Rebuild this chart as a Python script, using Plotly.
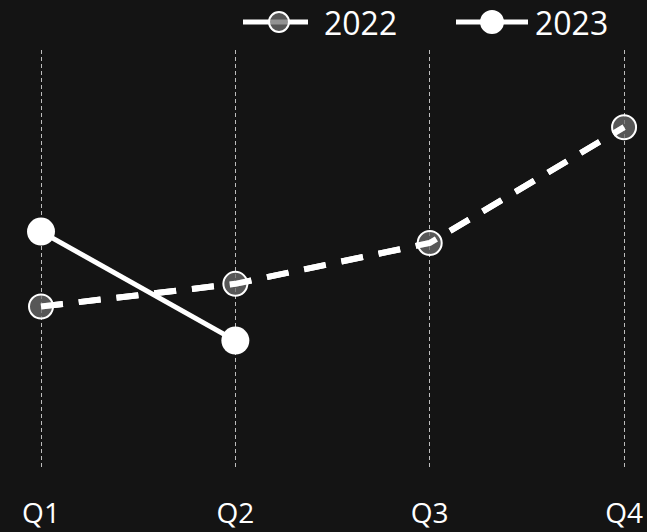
import plotly.graph_objects as go

quarters = ["Q1", "Q2", "Q3", "Q4"]
sales_2022 = [72, 82, 100, 151]
sales_2023 = [105, 57]

FONT = "Open Sans"
BG = "#141414"
W, H = 647, 532
M_TOP, M_BOT = 50, 62
PLOT_H = H - M_TOP - M_BOT

GREY_FILL = "rgba(110,110,110,0.75)"

fig = go.Figure()

# 2022: grey see-through markers with a dashed white line
fig.add_trace(go.Scatter(
    x=quarters, y=sales_2022, name="2022", mode="lines+markers",
    line=dict(color="white", width=6, dash="22px,16px"),
    marker=dict(size=24, color=GREY_FILL, line=dict(color="white", width=2)),
))
# dashed line repeated above the markers so it crosses into them
fig.add_trace(go.Scatter(
    x=quarters, y=sales_2022, mode="lines", hoverinfo="skip",
    line=dict(color="white", width=6, dash="22px,16px"),
))
# 2023: solid white line with filled white markers
fig.add_trace(go.Scatter(
    x=quarters[:len(sales_2023)], y=sales_2023, name="2023", mode="lines+markers",
    line=dict(color="white", width=5),
    marker=dict(size=28, color="white", line=dict(width=0)),
))


def px_x(p):
    return p / W


def px_y(p):
    # pixel row from the top of the page -> paper y
    return (H - M_BOT - p) / PLOT_H


# legend drawn at the top right: line sample, circle, label
legend_y = 22
legend_items = [
    dict(label="2022", x0=243, x1=308, cx=279, d=20, fill=GREY_FILL, text_x=322),
    dict(label="2023", x0=456, x1=528, cx=492, d=22, fill="white", text_x=533),
]
shapes = []
annotations = []
for item in legend_items:
    shapes.append(dict(type="line", xref="paper", yref="paper",
                       x0=px_x(item["x0"]), x1=px_x(item["x1"]),
                       y0=px_y(legend_y), y1=px_y(legend_y),
                       line=dict(color="white", width=5)))
    r = item["d"] / 2
    shapes.append(dict(type="circle", xref="paper", yref="paper",
                       xsizemode="pixel", ysizemode="pixel",
                       xanchor=px_x(item["cx"]), yanchor=px_y(legend_y),
                       x0=-r, x1=r, y0=-r, y1=r,
                       fillcolor=item["fill"], line=dict(color="white", width=2)))
    annotations.append(dict(text=item["label"], xref="paper", yref="paper",
                            x=px_x(item["text_x"]), y=px_y(legend_y),
                            xanchor="left", yanchor="middle", showarrow=False,
                            font=dict(family=FONT, size=32, color="white")))

fig.update_layout(
    width=W, height=H,
    paper_bgcolor=BG, plot_bgcolor=BG,
    margin=dict(l=0, r=0, t=M_TOP, b=M_BOT),
    font=dict(family=FONT, color="white", size=28),
    showlegend=False,
    shapes=shapes,
    annotations=annotations,
    xaxis=dict(
        type="category", range=[-0.211, 3.118],
        showgrid=True, gridcolor="#bdbdbd", gridwidth=1, griddash="4px,3px",
        showline=False, zeroline=False, ticks="", ticklabelstandoff=24,
        tickfont=dict(size=28, color="white", family=FONT),
    ),
    yaxis=dict(range=[0, 185], visible=False, showgrid=False, zeroline=False),
)

fig.write_html("out.html")
